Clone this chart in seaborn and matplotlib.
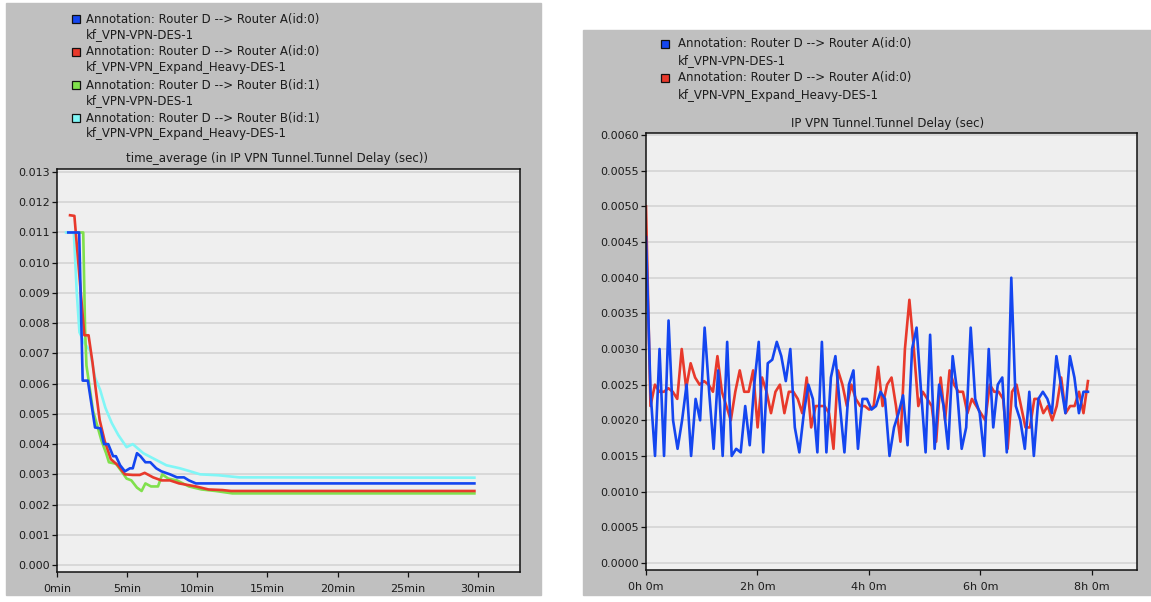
import numpy as np
import pandas as pd
import matplotlib
matplotlib.use("Agg")
import matplotlib.pyplot as plt
from matplotlib.patches import Rectangle
from matplotlib.ticker import FuncFormatter, MultipleLocator
import seaborn as sns

# ---- left chart: time_average of tunnel delay (x in minutes) ----
a_des_min = [0.8, 1.58, 1.83, 2.2, 2.71, 3.1, 3.35, 3.65, 4.0, 4.2, 4.5, 4.84, 5.2, 5.4,
             5.7, 5.95, 6.3, 6.65, 7.07, 7.44, 8.06, 8.55, 9.05, 9.4, 9.9, 29.75]
a_des_val = [0.0110, 0.0110, 0.0061, 0.0061, 0.00455, 0.00452, 0.0040, 0.0040, 0.0036,
             0.0036, 0.0033, 0.0031, 0.0032, 0.0032, 0.0037, 0.0036, 0.0034, 0.0034,
             0.0032, 0.0031, 0.0030, 0.0029, 0.0029, 0.0028, 0.0027, 0.0027]

a_exp_min = [0.93, 1.24, 1.95, 2.25, 2.53, 2.79, 3.04, 3.4, 3.84, 4.34, 4.84, 5.4, 5.9,
             6.25, 6.85, 7.45, 8.05, 8.7, 9.3, 9.9, 10.8, 11.8, 12.4, 29.75]
a_exp_val = [0.01157, 0.01155, 0.0076, 0.0076, 0.0067, 0.0057, 0.0048, 0.0041, 0.0035,
             0.0033, 0.0030, 0.00298, 0.00298, 0.00305, 0.0029, 0.0028, 0.0028, 0.0027,
             0.00265, 0.0026, 0.0025, 0.00248, 0.00245, 0.00245]

b_des_min = [1.4, 1.87, 2.0, 2.1, 2.57, 3.18, 3.5, 3.7, 4.2, 4.6, 4.96, 5.3, 5.7, 6.03,
             6.3, 6.7, 7.2, 7.5, 7.93, 8.55, 9.4, 10.3, 11.3, 12.5, 29.75]
b_des_val = [0.0110, 0.0110, 0.0078, 0.0066, 0.0051, 0.0041, 0.0037, 0.0034, 0.00335,
             0.0031, 0.00286, 0.0028, 0.00256, 0.00245, 0.0027, 0.0026, 0.0026, 0.0030,
             0.00286, 0.0028, 0.0026, 0.0025, 0.00245, 0.00237, 0.00237]

b_exp_min = [0.65, 1.2, 1.41, 1.6, 2.0, 2.35, 2.71, 3.07, 3.45, 3.9, 4.37, 4.96, 5.4,
             6.15, 6.97, 7.8, 8.76, 9.5, 10.2, 11.5, 13.0, 29.75]
b_exp_val = [0.0110, 0.0110, 0.0090, 0.0077, 0.0073, 0.0071, 0.0062, 0.0058, 0.0052,
             0.0047, 0.0043, 0.0039, 0.0040, 0.0037, 0.0035, 0.0033, 0.0032, 0.0031,
             0.0030, 0.00297, 0.0029, 0.00289]

# ---- right chart: tunnel delay per bucket (evenly spaced over the run) ----
run_end_h = 7.93
blue_delay = [
    0.00457, 0.0024, 0.0015, 0.0030, 0.0015, 0.0034, 0.0020, 0.0016, 0.0020, 0.0025,
    0.0015, 0.0023, 0.0020, 0.0033, 0.0024, 0.0016, 0.0027, 0.0015, 0.0031, 0.0015,
    0.0016, 0.00155, 0.0022, 0.00165, 0.0025, 0.0031, 0.00155, 0.0028, 0.00285, 0.0031,
    0.0029, 0.00255, 0.0030, 0.0019, 0.00155, 0.0021, 0.0025, 0.0023, 0.00155, 0.0031,
    0.00155, 0.0026, 0.0029, 0.0022, 0.00155, 0.0025, 0.0027, 0.0016, 0.0023, 0.0023,
    0.00215, 0.0022, 0.0024, 0.0023, 0.0015, 0.0019, 0.0021, 0.00235, 0.00165, 0.0030,
    0.0033, 0.0024, 0.00155, 0.0032, 0.0016, 0.0025, 0.0022, 0.0016, 0.0029, 0.0024,
    0.0016, 0.0019, 0.0033, 0.0023, 0.0021, 0.0015, 0.0030, 0.0019, 0.0025, 0.0026,
    0.00155, 0.0040, 0.0022, 0.0020, 0.0016, 0.0024, 0.0015, 0.0023, 0.0024, 0.0023,
    0.0021, 0.0029, 0.0025, 0.0021, 0.0029, 0.0026, 0.0021, 0.0024, 0.0024]
red_delay = [
    0.0050, 0.0022, 0.0025, 0.0024, 0.0024, 0.00245, 0.0024, 0.0023, 0.0030, 0.00245,
    0.0028, 0.0026, 0.0025, 0.00255, 0.0025, 0.0024, 0.0029, 0.0024, 0.0022, 0.0020,
    0.0024, 0.0027, 0.0024, 0.0024, 0.0027, 0.0019, 0.0026, 0.0024, 0.0021, 0.0024,
    0.0025, 0.0021, 0.0024, 0.0024, 0.0023, 0.0021, 0.0026, 0.0019, 0.0022, 0.0022,
    0.0022, 0.0021, 0.0016, 0.0027, 0.0025, 0.0022, 0.0025, 0.0023, 0.0022, 0.0022,
    0.00215, 0.0022, 0.00275, 0.0022, 0.0025, 0.0026, 0.0022, 0.0017, 0.0030, 0.00369,
    0.0030, 0.0022, 0.0024, 0.0023, 0.0022, 0.0017, 0.0026, 0.0020, 0.0027, 0.0025,
    0.0024, 0.0024, 0.0021, 0.0023, 0.0022, 0.0021, 0.0020, 0.0025, 0.0024, 0.0024,
    0.0023, 0.0016, 0.0024, 0.0025, 0.0022, 0.0019, 0.0019, 0.0023, 0.0023, 0.0021,
    0.0022, 0.0020, 0.0022, 0.0026, 0.0021, 0.0022, 0.0022, 0.0024, 0.0021, 0.00255]

names = [
    "Annotation: Router D --> Router A(id:0)\nkf_VPN-VPN-DES-1",
    "Annotation: Router D --> Router A(id:0)\nkf_VPN-VPN_Expand_Heavy-DES-1",
    "Annotation: Router D --> Router B(id:1)\nkf_VPN-VPN-DES-1",
    "Annotation: Router D --> Router B(id:1)\nkf_VPN-VPN_Expand_Heavy-DES-1",
]
colors = ["#1446f0", "#e8392b", "#80e04c", "#80f6f6"]

left_title = "time_average (in IP VPN Tunnel.Tunnel Delay (sec))"
right_title = "IP VPN Tunnel.Tunnel Delay (sec)"

# ---- build long tables ----
left_df = pd.concat([
    pd.DataFrame({"t": m, "v": v, "series": n})
    for m, v, n in zip([a_des_min, a_exp_min, b_des_min, b_exp_min],
                       [a_des_val, a_exp_val, b_des_val, b_exp_val], names)
])
right_df = pd.concat([
    pd.DataFrame({"t": np.arange(len(vals)) * run_end_h / (len(vals) - 1), "v": vals, "series": n})
    for vals, n in zip([blue_delay, red_delay], names[:2])
])

plt.rcParams["font.family"] = ["DejaVu Sans"]
W, H = 1151, 602
fig = plt.figure(figsize=(W / 100, H / 100), dpi=100)
fig.patch.set_facecolor("white")
txt = "#1c1c1c"
panel = "#c0c0c0"


def fx(x):
    return x / W


def fy(y):
    return 1 - y / H


# gray panels behind the axes
fig.patches.append(Rectangle((fx(6), fy(595)), (541 - 6) / W, (595 - 3) / H,
                             transform=fig.transFigure, color=panel, zorder=-5))
fig.patches.append(Rectangle((fx(583), fy(595)), (1151 - 583) / W, (595 - 30) / H,
                             transform=fig.transFigure, color=panel, zorder=-5))

ax1 = fig.add_axes([fx(57), fy(572), (520 - 57) / W, (572 - 169) / H])
ax2 = fig.add_axes([fx(646), fy(570), (1137 - 646) / W, (570 - 133) / H])

palette = dict(zip(names, colors))
sns.lineplot(data=left_df, x="t", y="v", hue="series", palette=palette,
             hue_order=[names[3], names[2], names[1], names[0]],
             estimator=None, sort=False, lw=1.9, legend=False, ax=ax1)
sns.lineplot(data=right_df, x="t", y="v", hue="series", palette=palette,
             hue_order=[names[1], names[0]],
             estimator=None, sort=False, lw=1.9, legend=False, ax=ax2)

ax1.set_xlim(0, 33)
ax1.set_ylim(-0.00023, 0.0131)
ax1.set_xticks(range(0, 31, 5))
ax1.xaxis.set_major_formatter(FuncFormatter(lambda x, p: f"{int(x)}min"))
ax1.yaxis.set_major_locator(MultipleLocator(0.001))
ax1.yaxis.set_major_formatter(FuncFormatter(lambda y, p: f"{y:.3f}"))

ax2.set_xlim(0, 8.81)
ax2.set_ylim(-0.0001, 0.00603)
ax2.set_xticks(range(0, 9, 2))
ax2.xaxis.set_major_formatter(FuncFormatter(lambda x, p: f"{int(x)}h 0m"))
ax2.yaxis.set_major_locator(MultipleLocator(0.0005))
ax2.yaxis.set_major_formatter(FuncFormatter(lambda y, p: f"{y:.4f}"))

for ax in (ax1, ax2):
    ax.set_zorder(1)
    ax.set_facecolor("#efefef")
    ax.set_xlabel("")
    ax.set_ylabel("")
    ax.grid(axis="y", color="#d4d4d4", lw=1.2)
    ax.set_axisbelow(True)
    for s in ax.spines.values():
        s.set_color("#111111")
        s.set_linewidth(1.1)
    ax.tick_params(axis="both", direction="out", length=3.5, width=0.9,
                   color="#111111", labelsize=8, labelcolor=txt)
    ax.tick_params(axis="x", pad=5)
    ax.tick_params(axis="y", pad=1.5)

# titles
fig.text(fx(277), fy(158), left_title, ha="center", va="center", fontsize=8.5, color=txt)
fig.text(fx(888), fy(124), right_title, ha="center", va="center", fontsize=8.5, color=txt)


def legend(x_sq, x_txt, rows, items):
    for i, (n, c) in enumerate(items):
        y1, y2 = rows[2 * i], rows[2 * i + 1]
        fig.patches.append(Rectangle((fx(x_sq - 4), fy(y1 + 4)), 8 / W, 8 / H,
                                     transform=fig.transFigure, facecolor=c,
                                     edgecolor="#111111", lw=0.9, zorder=3))
        l1, l2 = n.split("\n")
        fig.text(fx(x_txt), fy(y1), l1, ha="left", va="center", fontsize=8.5, color=txt)
        fig.text(fx(x_txt), fy(y2), l2, ha="left", va="center", fontsize=8.5, color=txt)


legend(76, 86, [19, 35, 52, 68, 85, 101, 118, 134], list(zip(names, colors)))
legend(665, 678, [44, 61, 78, 95], list(zip(names[:2], colors[:2])))

fig.savefig("out.png", dpi=100)
